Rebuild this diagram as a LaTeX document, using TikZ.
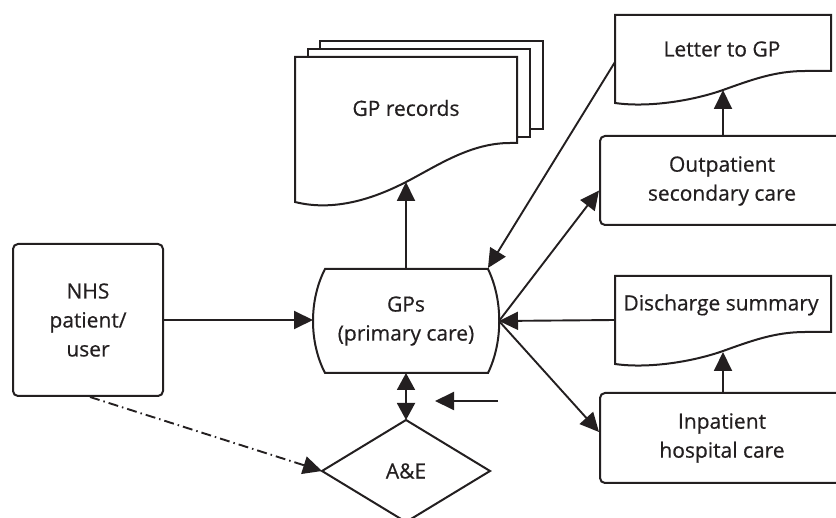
\documentclass[tikz,border=0pt]{standalone}
\usepackage{fontspec}
\setmainfont{Open Sans}[FakeBold=0.5]
\usetikzlibrary{arrows.meta,calc}
\definecolor{ink}{HTML}{231F20}
\begin{document}
\begin{tikzpicture}[x=1pt,y=-1pt,
  sheet/.style={draw=ink,line width=2pt,fill=white,line join=miter},
  boxnode/.style={draw=ink,line width=2pt,rounded corners=5pt,fill=white,inner sep=0pt},
  lbl/.style={font=\fontsize{21}{29}\selectfont,align=center,text=ink,inner sep=0pt},
  conn/.style={draw=ink,line width=1.9pt,-{Triangle[length=19pt,width=18pt]}},
  dconn/.style={draw=ink,line width=1.9pt,{Triangle[length=17pt,width=18pt]}-{Triangle[length=17pt,width=18pt]}},
  dashdotconn/.style={conn,dash pattern=on 10pt off 4pt on 1.5pt off 4pt}]
\useasboundingbox (0,0) rectangle (836,518);
\clip (0,0) rectangle (836,518);

% GP records (stack of documents)
\draw[sheet] (320,41) rectangle (543,129);
\draw[sheet] (308,49) rectangle (530,137);
\draw[sheet] (295,57) -- (517,57) -- (517,143) -- (510,143)
  .. controls (470,143) and (437,166) .. (406,182)
  .. controls (375,198) and (335,212) .. (295,202) -- cycle;
\node[lbl] (rec) at (406,108) {GP records};
\coordinate (recB) at (406,182);

% Letter to GP
\draw[sheet] (615,15) -- (831,15) -- (831,71) -- (805,71)
  .. controls (775,71) and (751,80) .. (723,90)
  .. controls (695,100) and (650,108) .. (615,103) -- cycle;
\node[lbl] (letter) at (722,49) {Letter to GP};
\coordinate (letL) at (615,62);
\coordinate (letB) at (723,90);

% Discharge summary
\begin{scope}[shift={(0,261)}]
\draw[sheet] (615,15) -- (831,15) -- (831,71) -- (805,71)
  .. controls (775,71) and (751,80) .. (723,90)
  .. controls (695,100) and (650,108) .. (615,103) -- cycle;
\end{scope}
\node[lbl] (dis) at (721,305) {Discharge summary};
\coordinate (disL) at (615,320);
\coordinate (disB) at (723,352);

% Rounded boxes
\node[boxnode,minimum width=150pt,minimum height=152pt] (nhsbox) at (88,320) {};
\node[lbl] (nhs) at (88,320) {NHS\\patient/\\user};
\node[boxnode,minimum width=246pt,minimum height=89pt] (outbox) at (723,180.5) {};
\node[lbl] (out) at (722,181) {Outpatient\\secondary care};
\node[boxnode,minimum width=246pt,minimum height=90pt] (inpbox) at (723,438) {};
\node[lbl] (inp) at (722,438) {Inpatient\\hospital care};

% GPs (primary care)
\draw[sheet] (325,269) -- (488,269)
  .. controls (503,300) and (503,342) .. (488,373) -- (325,373)
  .. controls (309,342) and (309,300) .. (325,269) -- cycle;
\node[lbl] (gp) at (406,321) {GPs\\(primary care)};
\coordinate (gpL) at (313,320);
\coordinate (gpR) at (499,321);
\coordinate (gpT) at (406,269);
\coordinate (gpB) at (406,373);
\coordinate (gpTR) at (488,268);

% A&E
\draw[sheet] (406,420) -- (490,471) -- (406,522) -- (322,471) -- cycle;
\node[lbl] (ae) at (406,471) {A\&E};
\coordinate (aeT) at (406,420);
\coordinate (aeL) at (322,471);

% free arrow
\coordinate (fa1) at (498,401);
\coordinate (fa2) at (435,401);

% connectors
\draw[conn] (nhsbox.east |- gpL) -- (gpL);
\draw[conn] (gpT) -- (recB);
\draw[conn] (letL) -- (gpTR);
\draw[conn] (gpR) -- ([yshift=-10pt]outbox.west);
\draw[conn] (disL) -- (gpR);
\draw[conn] (gpR) -- ([yshift=6pt]inpbox.west);
\draw[conn] (outbox.north -| letB) -- (letB);
\draw[conn] (inpbox.north -| disB) -- (disB);
\draw[dconn] (gpB) -- (aeT);
\draw[conn] (fa1) -- (fa2);
\draw[dashdotconn] ([xshift=2pt]nhsbox.south) -- (aeL);
\end{tikzpicture}
\end{document}
